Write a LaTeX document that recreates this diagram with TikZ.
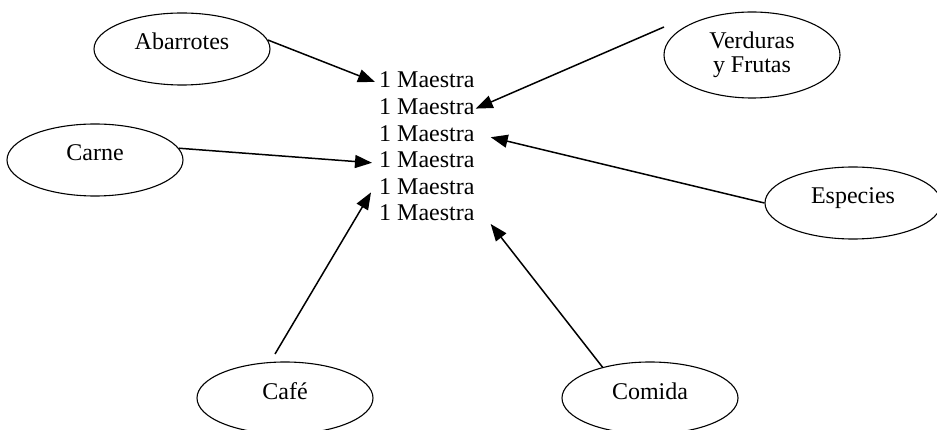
\documentclass[tikz,border=0pt]{standalone}
\usepackage{fontspec}
\setmainfont{Liberation Serif}
\usetikzlibrary{arrows.meta,calc,shapes.geometric}
\begin{document}
\begin{tikzpicture}[x=1pt,y=-1pt,
  ell/.style={draw,ellipse,line width=1.1pt,minimum width=176pt,minimum height=72pt,inner sep=0pt,
    font=\fontsize{24}{26}\selectfont,text height=16pt,text depth=14pt},
  mline/.style={anchor=west,inner sep=0pt,font=\fontsize{24}{26}\selectfont},
  arr/.style={line width=1.5pt,-{Triangle[length=17pt,width=13pt]}}]
\useasboundingbox (0,0) rectangle (937,430);
% ellipses
\node[ell] (abar) at (182,49) {Abarrotes};
\node[ell] (carne) at (95,160) {Carne};
\node[ell,minimum height=86pt,text height=,text depth=,align=center] (verd) at (752,55) {Verduras\\[-2pt]y Frutas};
\node[ell] (esp) at (853,203) {Especies};
\node[ell] (cafe) at (285,398) {Café};
\node[ell] (comida) at (650,398) {Comida};
% central text
\node[mline] (m1) at (379,80) {1 Maestra};
\node[mline] (m2) at (379,106.6) {1 Maestra};
\node[mline] (m3) at (379,133.2) {1 Maestra};
\node[mline] (m4) at (379,159.8) {1 Maestra};
\node[mline] (m5) at (379,186.4) {1 Maestra};
\node[mline] (m6) at (379,213) {1 Maestra};
% free ends
\coordinate (vs) at (664,27);
\coordinate (cs) at (275,354);
% connectors
\draw[arr] (abar.6) -- ($(m1.west)+(-4,2)$);
\draw[arr] (vs) -- ($(m2.east)+(1,2)$);
\draw[arr] (carne.8) -- ($(m4.west)+(-7,3)$);
\draw[arr] (esp.west) -- ($(m3.east)+(16,4)$);
\draw[arr] (cs) -- ($(m5.west)+(-8,6)$);
\draw[arr] (comida.147) -- ($(m6.east)+(16,11)$);
\end{tikzpicture}
\end{document}
